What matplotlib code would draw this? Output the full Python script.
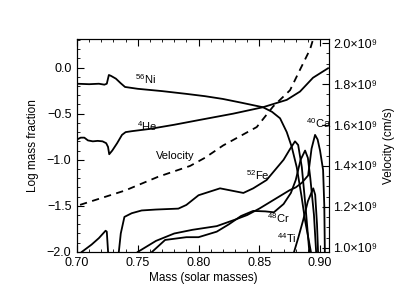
import numpy as np
import matplotlib.pyplot as plt
from matplotlib.ticker import MultipleLocator, FuncFormatter

plt.rcParams['font.family'] = ['Liberation Sans', 'DejaVu Sans']
plt.rcParams['mathtext.fontset'] = 'custom'
plt.rcParams['mathtext.rm'] = 'Liberation Sans'
plt.rcParams['mathtext.default'] = 'regular'

# data (mass in solar masses, log mass fraction)
ni_m = [0.700, 0.710, 0.718, 0.7225, 0.7245, 0.7262, 0.728, 0.732, 0.736, 0.7395, 0.750, 0.770, 0.790,
        0.8053, 0.820, 0.835, 0.853, 0.8605, 0.8671, 0.8726, 0.8767, 0.8808, 0.8848, 0.8877, 0.8932]
ni_y = [-0.175, -0.18, -0.175, -0.185, -0.175, -0.08, -0.09, -0.12, -0.17, -0.21, -0.23, -0.255, -0.285,
        -0.31, -0.34, -0.38, -0.43, -0.48, -0.55, -0.70, -0.86, -1.08, -1.40, -1.66, -2.05]

he_m = [0.700, 0.703, 0.706, 0.709, 0.713, 0.717, 0.721, 0.724, 0.7255, 0.7265, 0.729, 0.733, 0.737,
        0.740, 0.745, 0.760, 0.780, 0.800, 0.8284, 0.853, 0.8726, 0.8835, 0.8942, 0.9066]
he_y = [-0.78, -0.76, -0.76, -0.79, -0.80, -0.795, -0.80, -0.82, -0.86, -0.94, -0.90, -0.82, -0.73,
        -0.70, -0.69, -0.665, -0.62, -0.57, -0.50, -0.43, -0.35, -0.26, -0.11, -0.007]

fe_m1 = [0.700, 0.7039, 0.712, 0.718, 0.7235, 0.7245, 0.7258]
fe_y1 = [-2.05, -2.0, -1.92, -1.85, -1.77, -1.78, -2.05]
fe_m2 = [0.734, 0.736, 0.739, 0.745, 0.7532, 0.765, 0.7834, 0.790, 0.800, 0.8177, 0.8369, 0.845,
         0.856, 0.870, 0.875, 0.8794, 0.882, 0.885, 0.888, 0.8915]
fe_y2 = [-2.05, -1.80, -1.62, -1.58, -1.55, -1.54, -1.53, -1.49, -1.385, -1.31, -1.36, -1.31,
         -1.22, -1.0, -0.89, -0.80, -0.84, -1.08, -1.50, -2.05]

cr_m = [0.7617, 0.7725, 0.790, 0.800, 0.815, 0.825, 0.835, 0.845, 0.855, 0.862, 0.870, 0.876,
        0.880, 0.884, 0.8877, 0.890, 0.892, 0.895, 0.897]
cr_y = [-2.0, -1.87, -1.84, -1.84, -1.78, -1.70, -1.61, -1.555, -1.56, -1.57, -1.48, -1.36,
        -1.22, -1.0, -0.90, -0.98, -1.20, -1.60, -2.05]

ca_m = [0.750, 0.765, 0.780, 0.795, 0.805, 0.815, 0.830, 0.840, 0.850, 0.860, 0.875, 0.880,
        0.885, 0.8902, 0.893, 0.8959, 0.898, 0.900, 0.9025, 0.9035, 0.904]
ca_y = [-2.0, -1.88, -1.80, -1.76, -1.74, -1.72, -1.65, -1.60, -1.53, -1.45, -1.33, -1.30,
        -1.25, -1.17, -0.88, -0.73, -0.78, -0.90, -1.11, -1.50, -2.05]

ti_m = [0.8775, 0.882, 0.886, 0.890, 0.8944, 0.896, 0.8975, 0.8985]
ti_y = [-2.05, -1.85, -1.66, -1.45, -1.31, -1.38, -1.70, -2.05]

vel_m = [0.7025, 0.7395, 0.7667, 0.793, 0.8053, 0.8202, 0.8479, 0.8613, 0.8753, 0.8835, 0.8918, 0.8959, 0.898]
vel_v = [1.21e9, 1.28e9, 1.347e9, 1.40e9, 1.44e9, 1.50e9, 1.59e9, 1.69e9, 1.77e9, 1.87e9, 1.97e9, 2.05e9, 2.10e9]

fig = plt.figure(figsize=(3.95, 3.05), dpi=100)
ax = fig.add_axes([0.195, 0.174, 0.638, 0.698])

lw = 1.3
ax.plot(ni_m, ni_y, color='black', lw=lw)
ax.plot(he_m, he_y, color='black', lw=lw)
ax.plot(fe_m1, fe_y1, color='black', lw=lw)
ax.plot(fe_m2, fe_y2, color='black', lw=lw)
ax.plot(cr_m, cr_y, color='black', lw=lw)
ax.plot(ca_m, ca_y, color='black', lw=lw)
ax.plot(ti_m, ti_y, color='black', lw=lw)

ax.set_xlim(0.70, 0.9074)
ax.set_ylim(-2.0, 0.31)
ax.xaxis.set_major_locator(MultipleLocator(0.05))
ax.xaxis.set_minor_locator(MultipleLocator(0.01))
ax.yaxis.set_major_locator(MultipleLocator(0.5))
ax.yaxis.set_minor_locator(MultipleLocator(0.1))
ax.xaxis.set_major_formatter(FuncFormatter(lambda v, p: f"{v:.2f}"))
ax.yaxis.set_major_formatter(FuncFormatter(lambda v, p: f"{v:.1f}".replace('-', '\u2212')))
ax.tick_params(which='both', direction='in', top=True, labelsize=9)
ax.tick_params(which='major', length=5, pad=4)
ax.tick_params(which='minor', length=2.5)
ax.set_xlabel("Mass (solar masses)", fontsize=8.5, labelpad=2)
ax.set_ylabel("Log mass fraction", fontsize=8.5, labelpad=6)

# isotope labels
fs = 8
ax.text(0.756, -0.12, r'$^{56}$Ni', fontsize=fs, ha='center', va='center')
ax.text(0.7576, -0.63, r'$^{4}$He', fontsize=fs, ha='center', va='center')
ax.text(0.7807, -0.96, 'Velocity', fontsize=fs, ha='center', va='center')
ax.text(0.849, -1.17, r'$^{52}$Fe', fontsize=fs, ha='center', va='center')
ax.text(0.8655, -1.63, r'$^{48}$Cr', fontsize=fs, ha='center', va='center')
ax.text(0.8728, -1.85, r'$^{44}$Ti', fontsize=fs, ha='center', va='center')
ax.text(0.8985, -0.60, r'$^{40}$Ca', fontsize=fs, ha='center', va='center')

ax2 = ax.twinx()
ax2.plot(vel_m, vel_v, color='black', lw=lw, linestyle=(0, (4, 3)))
ax2.set_ylim(0.98e9, 2.02e9)
ax2.yaxis.set_major_locator(MultipleLocator(0.2e9))
ax2.yaxis.set_minor_locator(MultipleLocator(0.05e9))
ax2.yaxis.set_major_formatter(FuncFormatter(lambda v, p: f"{v/1e9:.1f}\u00d710\u2079"))
ax2.tick_params(which='both', direction='in', labelsize=9)
ax2.tick_params(which='major', length=5, pad=3)
ax2.tick_params(which='minor', length=2.5)
ax2.set_ylabel("Velocity (cm/s)", fontsize=8.5, labelpad=4)
ax2.set_xlim(0.70, 0.9074)

fig.savefig("out.png", dpi=100)
